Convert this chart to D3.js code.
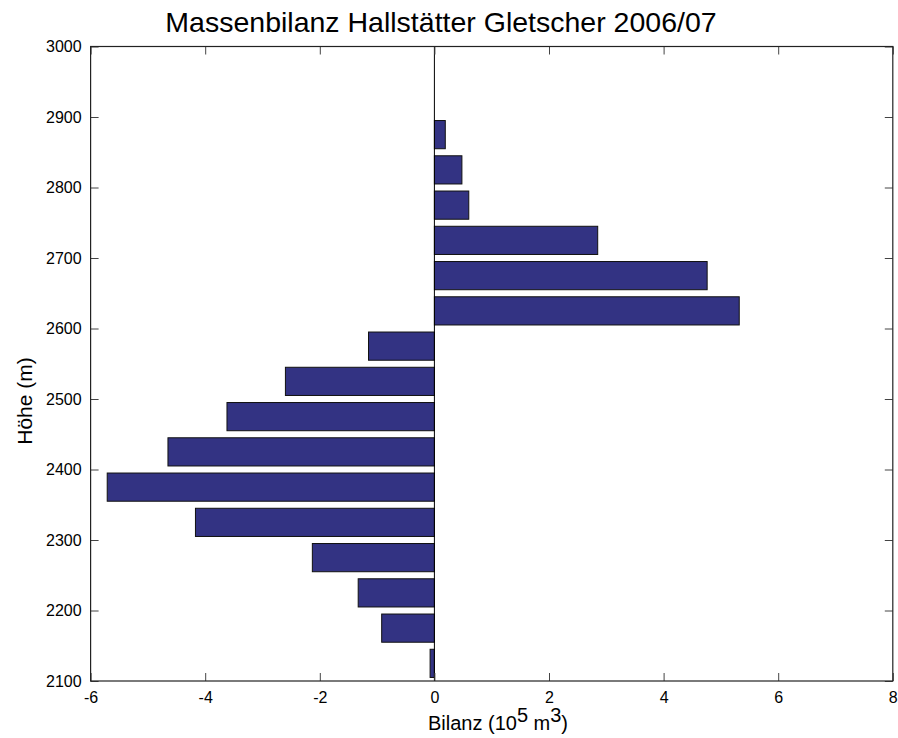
<!DOCTYPE html>
<html lang="de">
<head>
<meta charset="UTF-8">
<title>Massenbilanz Hallstätter Gletscher 2006/07</title>
<script src="https://d3js.org/d3.v7.min.js"></script>
<style>
    body { margin: 0; background: white; }
    svg { font-family: "Liberation Sans", Arial, sans-serif; }
</style>
</head>
<body>
<svg id="chart" width="898" height="738"></svg>
<script>
    // Höhenstufen (Mitte, m) und Bilanz (10^5 m^3)
    let hoehe = [2125, 2175, 2225, 2275, 2325, 2375, 2425, 2475, 2525, 2575,
                 2625, 2675, 2725, 2775, 2825, 2875];
    let bilanz = [-0.075, -0.92, -1.33, -2.13, -4.17, -5.71, -4.65, -3.62, -2.60, -1.15,
                  5.32, 4.76, 2.85, 0.60, 0.48, 0.19];
    let xTicks = [-6, -4, -2, 0, 2, 4, 6, 8];
    let yTicks = [2100, 2200, 2300, 2400, 2500, 2600, 2700, 2800, 2900, 3000];

    let svg = d3.select('#chart');
    let pLeft = 90.6, pRight = 892.8, pTop = 46.5, pBottom = 681;

    let x = d3.scaleLinear().domain([-6, 8]).range([pLeft, pRight]);
    let y = d3.scaleLinear().domain([2100, 3000]).range([pBottom, pTop]);
    let binH = 50, barFrac = 0.8;

    // bars
    svg.append('g').selectAll('rect')
        .data(hoehe.map(function (h, i) { return {h: h, v: bilanz[i]}; }))
        .enter()
        .append('rect')
        .attr('x', function (d) { return x(Math.min(0, d.v)); })
        .attr('width', function (d) { return Math.abs(x(d.v) - x(0)); })
        .attr('y', function (d) { return y(d.h + binH * barFrac / 2); })
        .attr('height', function (d) { return y(d.h - binH * barFrac / 2) - y(d.h + binH * barFrac / 2); })
        .attr('fill', '#333383')
        .attr('stroke', '#111')
        .attr('stroke-width', 1);

    // zero line
    svg.append('line')
        .attr('x1', x(0)).attr('x2', x(0))
        .attr('y1', pTop).attr('y2', pBottom)
        .attr('stroke', '#000').attr('stroke-width', 1);

    // axes (ticks inside, box)
    let xb = svg.append('g').attr('transform', 'translate(0,' + pBottom + ')')
        .call(d3.axisBottom(x).tickValues(xTicks).tickSizeInner(-8).tickSizeOuter(0).tickPadding(11).tickFormat(d3.format('d')));
    let xt = svg.append('g').attr('transform', 'translate(0,' + pTop + ')')
        .call(d3.axisTop(x).tickValues(xTicks).tickSizeInner(-8).tickSizeOuter(0).tickFormat(''));
    let yl = svg.append('g').attr('transform', 'translate(' + pLeft + ',0)')
        .call(d3.axisLeft(y).tickValues(yTicks).tickSizeInner(-8).tickSizeOuter(0).tickPadding(9).tickFormat(d3.format('d')));
    let yr = svg.append('g').attr('transform', 'translate(' + pRight + ',0)')
        .call(d3.axisRight(y).tickValues(yTicks).tickSizeInner(-8).tickSizeOuter(0).tickFormat(''));

    [xb, xt, yl, yr].forEach(function (g) {
        g.attr('font-family', null).attr('font-size', null);
        g.select('.domain').remove();
        g.selectAll('.tick line').attr('stroke', '#444');
        g.selectAll('.tick text').attr('fill', '#000').style('font-size', '16px');
    });
    xb.selectAll('.tick text').text(function (d) { return d; });

    svg.append('rect')
        .attr('x', pLeft).attr('y', pTop)
        .attr('width', pRight - pLeft).attr('height', pBottom - pTop)
        .attr('fill', 'none').attr('stroke', '#222').attr('stroke-width', 1.2);

    // title and labels
    svg.append('text')
        .attr('x', 441).attr('y', 32)
        .attr('text-anchor', 'middle')
        .style('font-size', '28.5px')
        .text('Massenbilanz Hallstätter Gletscher 2006/07');

    let xl = svg.append('text')
        .attr('x', 498).attr('y', 730)
        .attr('text-anchor', 'middle')
        .style('font-size', '20px');
    xl.append('tspan').text('Bilanz (10');
    xl.append('tspan').attr('dy', -8).text('5');
    xl.append('tspan').attr('dy', 8).text(' m');
    xl.append('tspan').attr('dy', -8).text('3');
    xl.append('tspan').attr('dy', 8).text(')');

    svg.append('text')
        .attr('transform', 'translate(32,401) rotate(-90)')
        .attr('text-anchor', 'middle')
        .style('font-size', '21px')
        .text('Höhe (m)');
</script>
</body>
</html>
